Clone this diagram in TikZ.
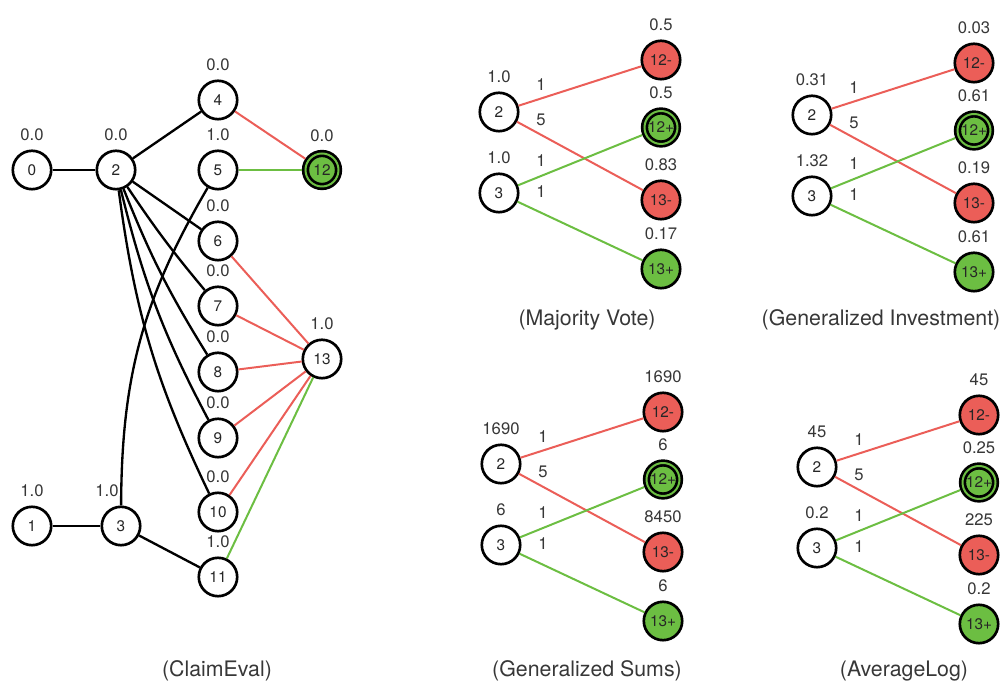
\documentclass[tikz,border=0pt]{standalone}
\usepackage{fontspec}
\setmainfont{TeX Gyre Heros}
\definecolor{claimred}{RGB}{235,94,88}
\definecolor{claimgreen}{RGB}{108,190,66}
\definecolor{scoregray}{RGB}{55,55,55}

% small bipartite graph: sources 2 and 3, claims 12-, 12+, 13-, 13+
\newcommand{\scorepanel}[8]{%
  \begin{scope}[shift={(#1)}]
    \node[plainv, label={[vlbl]above:#3}] (#2a) at (0,0) {2};
    \node[plainv, label={[vlbl]above:#4}] (#2b) at (0,-81) {3};
    \node[redv, label={[vlbl]above:#5}] (#2c) at (162,52) {12-};
    \node[truev, label={[vlbl]above:#6}] (#2d) at (162,-15.5) {12+};
    \node[redv, label={[vlbl]above:#7}] (#2e) at (162,-88) {13-};
    \node[greenv, label={[vlbl]above:#8}] (#2f) at (162,-157) {13+};
    \draw[redge] (#2a) -- (#2c);
    \draw[redge] (#2a) -- (#2e);
    \draw[gedge] (#2b) -- (#2d);
    \draw[gedge] (#2b) -- (#2f);
    \node[elbl] (#2w1) at (42,27) {1};
    \node[elbl] (#2w2) at (42,-8) {5};
    \node[elbl] (#2w3) at (42,-49) {1};
    \node[elbl] (#2w4) at (42,-80) {1};
  \end{scope}}

\begin{document}
\begin{tikzpicture}[x=0.75pt,y=0.75pt,
    plainv/.style={circle, draw, line width=2pt, minimum size=28.8pt,
      inner sep=0pt, fill=white, text=black!85,
      font=\fontsize{11.5}{13}\selectfont},
    redv/.style={plainv, fill=claimred},
    greenv/.style={plainv, fill=claimgreen},
    truev/.style={circle, draw, line width=2pt, double=claimgreen,
      double distance=1.5pt, fill=claimgreen, minimum size=24.75pt,
      inner sep=0pt, outer sep=2.75pt, text=black!85,
      font=\fontsize{11.5}{13}\selectfont},
    vlbl/.style={font=\fontsize{12.5}{14}\selectfont, text=scoregray, inner sep=0pt},
    elbl/.style={vlbl},
    paneltitle/.style={font=\fontsize{16}{18}\selectfont, text=scoregray},
    bedge/.style={line width=1.75pt},
    redge/.style={claimred, line width=1.5pt},
    gedge/.style={claimgreen, line width=1.5pt},
    label distance=6.2pt]
  \useasboundingbox (0,0) rectangle (1008,684);

  % ClaimEval graph
  \node[plainv, label={[vlbl]above:0.0}] (c0) at (32,514) {0};
  \node[plainv, label={[vlbl]above:0.0}] (c2) at (116,514) {2};
  \node[plainv, label={[vlbl]above:0.0}] (c4) at (218,584) {4};
  \node[plainv, label={[vlbl]above:1.0}] (c5) at (218,514) {5};
  \node[truev, label={[vlbl]above:0.0}] (c12) at (322,514) {12};
  \node[plainv, label={[vlbl]above:0.0}] (c6) at (218,443) {6};
  \node[plainv, label distance=3.5pt, label={[vlbl]above:0.0}] (c7) at (218,378) {7};
  \node[plainv, label={[vlbl]above:0.0}] (c8) at (218,312) {8};
  \node[plainv, label={[vlbl]above:0.0}] (c9) at (218,246) {9};
  \node[plainv, label={[vlbl]above:0.0}] (c10) at (218,172) {10};
  \node[plainv, label={[vlbl]above:1.0}] (c11) at (218,107) {11};
  \node[plainv, label distance=4.5pt, label={[vlbl]above:1.0}] (c13) at (322,325) {13};
  \node[plainv, label distance=11pt, label={[vlbl]above:1.0}] (c1) at (32,158) {1};
  \node[plainv, label distance=11pt, label={[vlbl,xshift=-10.5pt]above:1.0}] (c3) at (121,158) {3};

  \draw[bedge] (c0) -- (c2);
  \draw[bedge] (c2) -- (c4);
  \draw[bedge] (c2) -- (c6);
  \draw[bedge] (c2) to[bend right=3] (c7);
  \draw[bedge] (c2) to[bend right=5] (c8);
  \draw[bedge] (c2) to[bend right=7] (c9);
  \draw[bedge] (c2) to[bend right=9] (c10);
  \draw[bedge] (c1) -- (c3);
  \draw[bedge] (c3) -- (c11);
  \draw[bedge] (c3) to[bend left=15] (c5);
  \draw[redge] (c4) -- (c12);
  \draw[gedge] (c5) -- (c12);
  \foreach \k in {6,...,10}
    \draw[redge] (c\k) -- (c13);
  \draw[gedge] (c11) -- (c13);
  \node[paneltitle] (t0) at (217,13) {(ClaimEval)};

  % the four scoring schemes
  \scorepanel{499,572}{mv}{1.0}{1.0}{0.5}{0.5}{0.83}{0.17}
  \node[paneltitle] (t1) at (587,364) {(Majority Vote)};
  \scorepanel{812,569}{gi}{0.31}{1.32}{0.03}{0.61}{0.19}{0.61}
  \node[paneltitle] (t2) at (881,364) {(Generalized Investment)};
  \scorepanel{501,220}{gs}{1690}{6}{1690}{6}{8450}{6}
  \node[paneltitle] (t3) at (587,13) {(Generalized Sums)};
  \scorepanel{817,217}{al}{45}{0.2}{45}{0.25}{225}{0.2}
  \node[paneltitle] (t4) at (904,13) {(AverageLog)};
\end{tikzpicture}
\end{document}
